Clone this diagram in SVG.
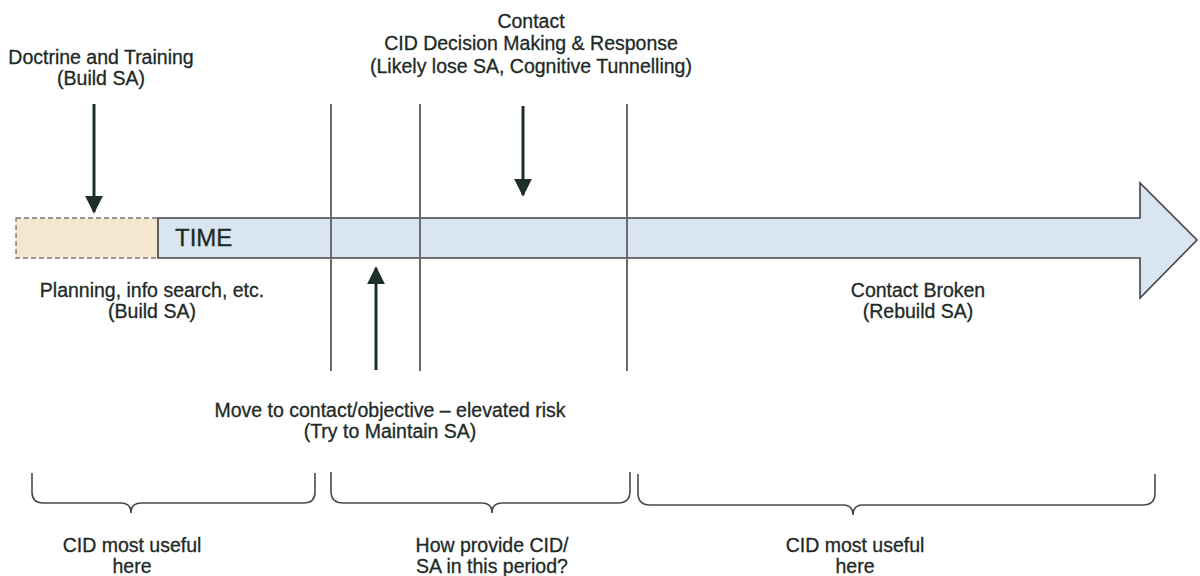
<svg xmlns="http://www.w3.org/2000/svg" width="1200" height="576" viewBox="0 0 1200 576">
<style>
text{font-family:"Liberation Sans",Arial,sans-serif;font-size:19.5px;fill:#1e2a26;stroke:#1e2a26;stroke-width:0.3;text-anchor:middle}
.vl{stroke:#6a6a6a;stroke-width:2;fill:none}
.ar{stroke:#1e2e28;stroke-width:3;fill:none}
.br{stroke:#4a4a4a;stroke-width:1.6;fill:none}
</style>
<defs>
<marker id="ah" viewBox="0 0 10 10" refX="9" refY="5" markerWidth="6" markerHeight="6" markerUnits="strokeWidth" orient="auto">
<path d="M0,0 L10,5 L0,10 z" fill="#1e2e28"/>
</marker>
</defs>
<rect width="1200" height="576" fill="#ffffff"/>
<g id="timeline">
<rect x="16" y="218" width="142" height="40" fill="#f5e7cf" stroke="#777" stroke-width="1.3" stroke-dasharray="5,3"/>
<path d="M158,218 H1140 V183 L1197,240 L1140,298 V258 H158 Z" fill="#d9e5f1" stroke="#444" stroke-width="1.6"/>
<text x="175" y="246" style="font-size:24px;text-anchor:start">TIME</text>
</g>
<g id="dividers">
<line class="vl" x1="331" y1="104" x2="331" y2="371"/>
<line class="vl" x1="420" y1="104" x2="420" y2="371"/>
<line class="vl" x1="627" y1="104" x2="627" y2="371"/>
</g>
<g id="connectors">
<line class="ar" x1="94" y1="104" x2="94" y2="212" marker-end="url(#ah)"/>
<line class="ar" x1="523" y1="106" x2="523" y2="195" marker-end="url(#ah)"/>
<line class="ar" x1="376" y1="370" x2="376" y2="268" marker-end="url(#ah)"/>
</g>
<g id="doctrine">
<text x="101" y="64">Doctrine and Training</text>
<text x="101" y="85">(Build SA)</text>
</g>
<g id="contact">
<text x="531" y="28">Contact</text>
<text x="531" y="50">CID Decision Making &amp; Response</text>
<text x="531" y="73">(Likely lose SA, Cognitive Tunnelling)</text>
</g>
<g id="planning">
<text x="152" y="297">Planning, info search, etc.</text>
<text x="152" y="318">(Build SA)</text>
</g>
<g id="broken">
<text x="918" y="297">Contact Broken</text>
<text x="918" y="318">(Rebuild SA)</text>
</g>
<g id="move">
<text x="390" y="417">Move to contact/objective – elevated risk</text>
<text x="390" y="438">(Try to Maintain SA)</text>
</g>
<g id="braces">
<path class="br" d="M32,473 V492 Q32,503 43,503 H121 Q131,503 131,513 Q131,503 141,503 H304 Q315,503 315,492 V473"/>
<path class="br" d="M331,472 V491 Q331,503 343,503 H482 Q492,503 492,513 Q492,503 502,503 H618 Q630,503 630,491 V472"/>
<path class="br" d="M638,474 V493 Q638,505 650,505 H843 Q853,505 853,515 Q853,505 863,505 H1143 Q1155,505 1155,493 V474"/>
</g>
<g id="label-left">
<text x="132" y="552">CID most useful</text>
<text x="132" y="573">here</text>
</g>
<g id="label-mid">
<text x="492" y="552">How provide CID/</text>
<text x="492" y="573">SA in this period?</text>
</g>
<g id="label-right">
<text x="855" y="552">CID most useful</text>
<text x="855" y="573">here</text>
</g>
</svg>
